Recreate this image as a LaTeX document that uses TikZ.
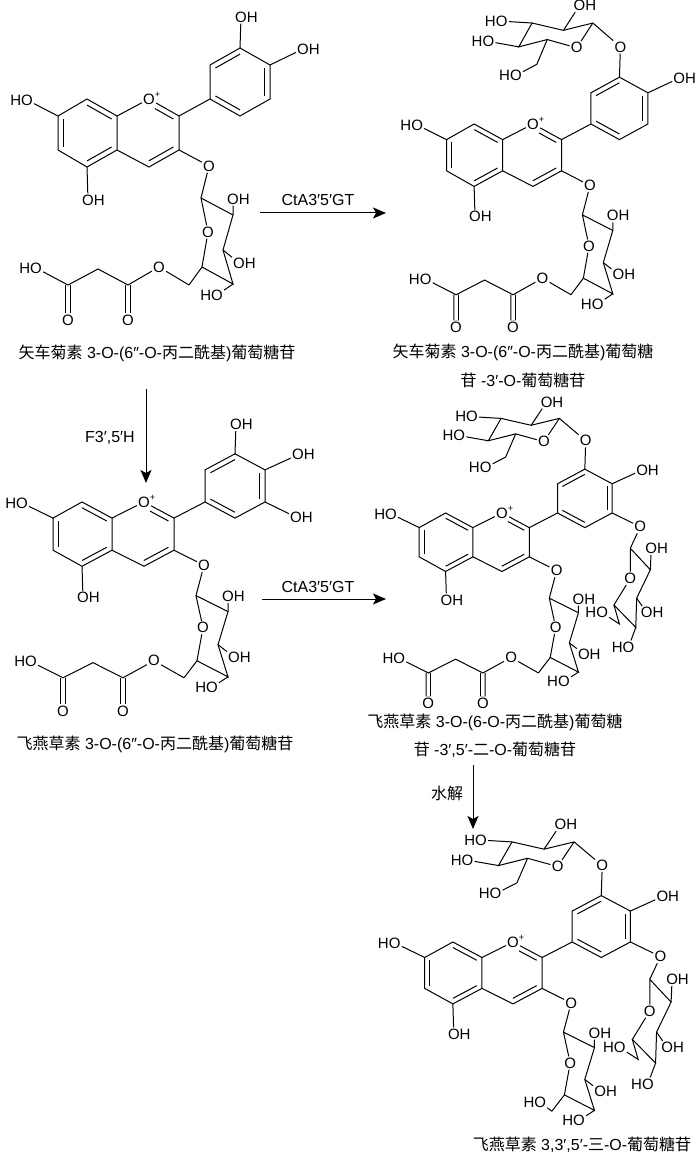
\documentclass[tikz,border=0pt]{standalone}
\usepackage{fontspec}
\setmainfont{Liberation Sans}
\newfontfamily\cjk{Noto Sans CJK SC}
\usetikzlibrary{calc,arrows.meta}

\newcommand\atomfont{\fontsize{15}{18}\selectfont}
\newcommand\capfont{\fontsize{16}{20}\selectfont}
\newcommand\zh[1]{{\cjk #1}}

\tikzset{
  atom/.style={inner sep=0.8pt,font=\atomfont},
  capt/.style={inner sep=0pt,font=\capfont},
  rxn/.style={-{Stealth[length=13pt,width=11pt,inset=3pt]}},
  dbond/.style={double,double distance=3.4pt},
}

% inner line of a ring double bond
\newcommand\inb[4][0pt]{\draw[shorten <=#1] ($(#2)!.18!(#4)$) -- ($(#3)!.18!(#4)$);}

% flavylium core, 4'-OH and 3-O-glucose
\newcommand\flavcore{%
  \coordinate (a1) at (87,99);  \coordinate (a2) at (117,116); \coordinate (a3) at (117,150);
  \coordinate (a4) at (87,167); \coordinate (a5) at (58,150);  \coordinate (a6) at (58,116);
  \coordinate (p1) at (149,99); \coordinate (c2) at (179,116); \coordinate (c3) at (179,150);
  \coordinate (c4) at (149,167);
  \coordinate (b1) at (210,99); \coordinate (b2) at (210,65); \coordinate (b3) at (240,48);
  \coordinate (b4) at (270,65); \coordinate (b5) at (270,99); \coordinate (b6) at (240,116);
  \coordinate (cA) at (87.5,133); \coordinate (cC) at (148,133); \coordinate (cB) at (240,82);
  \node[atom] (o1) at (p1) {O\rlap{\smash{\raisebox{6.5pt}{\fontsize{9}{9}\selectfont+}}}};
  \node[atom] (o7) at (27,100) {\llap{H}O};
  \node[atom] (o5) at (88,200) {O\rlap{H}};
  \node[atom] (o3) at (209,166) {O};
  \node[atom] (o4p) at (303,49) {O\rlap{H}};
  \draw (a1) -- (a2) -- (a3) -- (a4) -- (a5) -- (a6) -- cycle;
  \draw (a2) -- (o1) -- (c2) -- (c3) -- (c4) -- (a3);
  \draw (c2) -- (b1);
  \draw (b1) -- (b2) -- (b3) -- (b4) -- (b5) -- (b6) -- cycle;
  \draw (a6) -- (o7) (a4) -- (o5) (c3) -- (o3) (b4) -- (o4p);
  \inb{a1}{a2}{cA} \inb{a5}{a6}{cA} \inb{a4}{a3}{cA}
  \inb[7pt]{p1}{c2}{cC} \inb{c3}{c4}{cC}
  \inb{b2}{b3}{cB} \inb{b4}{b5}{cB} \inb{b6}{b1}{cB}
  % 3-O-glucose
  \coordinate (g1) at (201,198); \coordinate (g2) at (233,215); \coordinate (g3) at (223,250);
  \coordinate (g4) at (233,284); \coordinate (g5) at (202,267); \coordinate (g6) at (189,285);
  \node[atom] (gr) at (208,232) {O};
  \node[atom] (go2) at (233,199) {O\rlap{H}};
  \node[atom] (go3) at (239,263) {O\rlap{H}};
  \node[atom] (go4) at (217,295) {\llap{H}O};
  \draw (o3) -- (g1) -- (g2) -- (g3) -- (g4) -- (g5) -- (gr) -- (g1);
  \draw (g2) -- (go2) (g3) -- (go3) (g4) -- (go4) (g5) -- (g6);
}

\newcommand\threeoh{%
  \node[atom] (o3p) at (241,17) {O\rlap{H}};
  \draw (b3) -- (o3p);
}
\newcommand\fiveoh{%
  \node[atom] (o5p) at (301,115) {O\rlap{H}};
  \draw (b5) -- (o5p);
}
\newcommand\glcsixoh{%
  \node[atom] (g6o) at (177,275) {\llap{H}O};
  \draw (g6) -- (g6o);
}
% 6''-O-malonyl
\newcommand\malchain{%
  \coordinate (m1) at (128,285); \coordinate (m2) at (98,269); \coordinate (m3) at (68,285);
  \node[atom] (oe) at (159,267) {O};
  \node[atom] (om1) at (128,320) {O};
  \node[atom] (om3) at (68,320) {O};
  \node[atom] (om4) at (36,268) {\llap{H}O};
  \draw[dbond] (m1) -- (om1);
  \draw[dbond] (m3) -- (om3);
  \draw (g6) -- (oe) -- (m1) -- (m2) -- (m3) -- (om4);
}
% 3'-O-glucose
\newcommand\glctop{%
  \coordinate (t1) at (212,-11); \coordinate (t2) at (181,-3); \coordinate (t3) at (148,-11);
  \coordinate (t4) at (134,15);  \coordinate (t5) at (164,7);  \coordinate (t6) at (153,34);
  \node[atom] (t0) at (241,15) {O};
  \node[atom] (tr) at (195,16) {O};
  \node[atom] (to2) at (198,-30) {O\rlap{H}};
  \node[atom] (to3) at (116,-13) {\llap{H}O};
  \node[atom] (to4) at (102,9) {\llap{H}O};
  \node[atom] (to6) at (131,46) {\llap{H}O};
  \draw (b3) -- (t0) -- (t1) -- (t2) -- (t3) -- (t4) -- (t5) -- (tr) -- (t1);
  \draw (t2) -- (to2) (t3) -- (to3) (t4) -- (to4) (t5) -- (t6) -- (to6);
}
% 5'-O-glucose
\newcommand\glcside{%
  \coordinate (s1) at (290,140); \coordinate (s2) at (312,165); \coordinate (s3) at (297,198);
  \coordinate (s4) at (296,232); \coordinate (s5) at (272,206); \coordinate (s6) at (278,228);
  \node[atom] (s0) at (301,115) {O};
  \node[atom] (sr) at (290,175) {O};
  \node[atom] (so2) at (313,140) {O\rlap{H}};
  \node[atom] (so3) at (308,215) {O\rlap{H}};
  \node[atom] (so4) at (288,255) {\llap{H}O};
  \node[atom] (so6) at (259,215) {\llap{H}O};
  \draw (b5) -- (s0) -- (s1) -- (s2) -- (s3) -- (s4) -- (s5) -- (sr) -- (s1);
  \draw (s2) -- (so2) (s3) -- (so3) (s4) -- (so4) (s5) -- (s6) -- (so6);
}

\begin{document}
\begin{tikzpicture}[x=1pt,y=-1pt,line width=1pt]
\useasboundingbox (0,0) rectangle (700,1155);

% top left
\begin{scope}
  \flavcore \threeoh \malchain
\end{scope}
\node[capt] (n1) at (157,353) {\zh{矢车菊素} 3-O-(6″-O-\zh{丙二酰基})\zh{葡萄糖苷}};

% top right
\begin{scope}[shift={(533,124)},xscale=0.95,yscale=0.918,shift={(-149,-99)}]
  \flavcore \glctop \malchain
\end{scope}
\node[capt] (n2a) at (523,352) {\zh{矢车菊素} 3-O-(6″-O-\zh{丙二酰基})\zh{葡萄糖}};
\node[capt] (n2b) at (523,380) {\zh{苷} -3′-O-\zh{葡萄糖苷}};

% middle left
\begin{scope}[shift={(144,502)},yscale=0.945,shift={(-149,-99)}]
  \flavcore \threeoh \fiveoh \malchain
\end{scope}
\node[capt] (n3) at (155,744) {\zh{飞燕草素} 3-O-(6″-O-\zh{丙二酰基})\zh{葡萄糖苷}};

% middle right
\begin{scope}[shift={(502,513)},xscale=0.91,yscale=0.86,shift={(-149,-99)}]
  \flavcore \glctop \glcside \malchain
\end{scope}
\node[capt] (n4a) at (495,722) {\zh{飞燕草素} 3-O-(6-O-\zh{丙二酰基})\zh{葡萄糖}};
\node[capt] (n4b) at (495,750) {\zh{苷} -3′,5′-\zh{二}-O-\zh{葡萄糖苷}};

% bottom
\begin{scope}[shift={(513,942)},xscale=0.97,yscale=0.91,shift={(-149,-99)}]
  \flavcore \glctop \glcside \glcsixoh
\end{scope}
\node[capt] (n5) at (582,1145) {\zh{飞燕草素} 3,3′,5′-\zh{三}-O-\zh{葡萄糖苷}};

% reactions
\coordinate (r1s) at (260,213); \coordinate (r1e) at (386,213);
\draw[rxn] (r1s) -- (r1e);
\node[capt] (l1) at (318,200) {CtA3′5′GT};
\coordinate (r2s) at (146,389); \coordinate (r2e) at (146,483);
\draw[rxn] (r2s) -- (r2e);
\node[capt] (l2) at (110,438) {F3′,5′H};
\coordinate (r3s) at (262,599); \coordinate (r3e) at (386,599);
\draw[rxn] (r3s) -- (r3e);
\node[capt] (l3) at (318,587) {CtA3′5′GT};
\coordinate (r4s) at (473,765); \coordinate (r4e) at (473,829);
\draw[rxn] (r4s) -- (r4e);
\node[capt] (l4) at (447,793) {\zh{水解}};
\end{tikzpicture}
\end{document}
